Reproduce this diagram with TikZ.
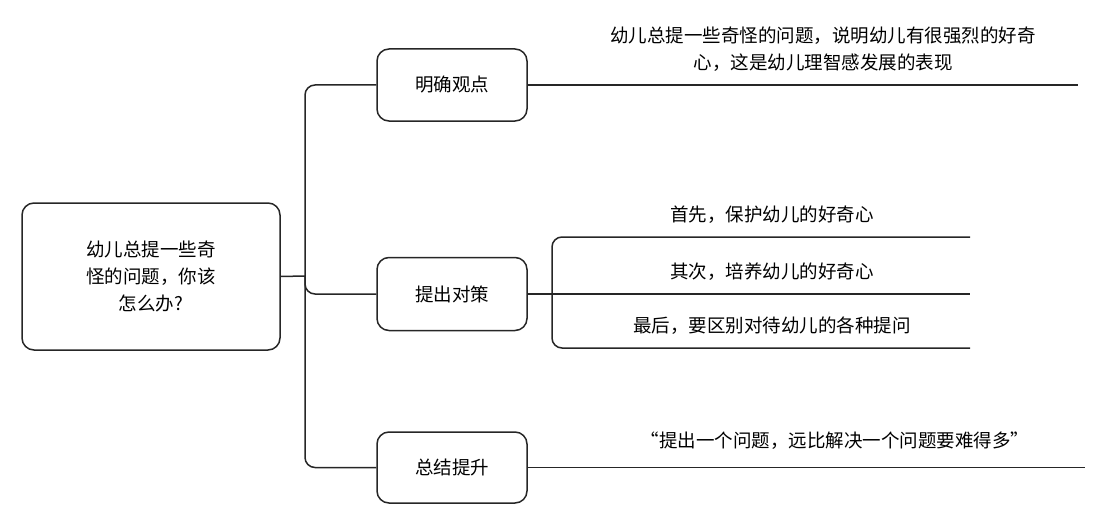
\documentclass[tikz,border=0pt]{standalone}
\usepackage{fontspec}
\newfontfamily\cjk{Noto Sans CJK SC}
\usepackage{tikz}
\usetikzlibrary{positioning}

\tikzset{
  topic/.style={draw=black!85, line width=1.5pt, rounded corners=12pt,
    align=center, inner sep=0pt},
  link/.style={draw=black!85, line width=1.5pt, rounded corners=10pt},
  note/.style={align=center, inner sep=0pt}
}

\begin{document}
\begin{tikzpicture}[x=1pt, y=-1pt, font=\cjk\fontsize{18.5}{27}\selectfont]
    \useasboundingbox (0,0) rectangle (1109,519);
    % central question
    \node[topic, minimum width=258pt, minimum height=147pt] (root) at (151,276.5)
      {幼儿总提一些奇\\怪的问题，你该\\怎么办?};
    % three main branches
    \node[topic, minimum width=150pt, minimum height=72pt] (view) at (452,85) {明确观点};
    \node[topic, minimum width=150pt, minimum height=73pt] (plan) at (452,294) {提出对策};
    \node[topic, minimum width=150pt, minimum height=71pt] (sum) at (452,467.5) {总结提升};
    \coordinate (trunk) at (305,276);
    \draw[link] (root.east) -- (trunk);
    \draw[link] (trunk) |- (view.west);
    \draw[link] (trunk) |- (plan.west);
    \draw[link] (trunk) |- (sum.west);
    % leaves
    \node[note] (viewtxt) at (823,49.5)
      {幼儿总提一些奇怪的问题，说明幼儿有很强烈的好奇\\心，这是幼儿理智感发展的表现};
    \coordinate (viewend) at (1078,85);
    \draw[link] (view.east) -- (viewend);
    \coordinate (fork) at (552,294);
    \foreach \y/\t/\n in {237/首先，保护幼儿的好奇心/a,
                          294/其次，培养幼儿的好奇心/b,
                          348/最后，要区别对待幼儿的各种提问/c} {
      \node[note] (step\n) at (772,\y-22) {\t};
      \coordinate (end\n) at (970,\y);
    }
    \draw[link] (plan.east) -- (endb);
    \draw[link] (fork) |- (enda);
    \draw[link] (fork) |- (endc);
    \node[note] (sumtxt) at (835,441) {“提出一个问题，远比解决一个问题要难得多”};
    \coordinate (sumend) at (1085,467.5);
    \draw[link] (sum.east) -- (sumend);
  \end{tikzpicture}
\end{document}
